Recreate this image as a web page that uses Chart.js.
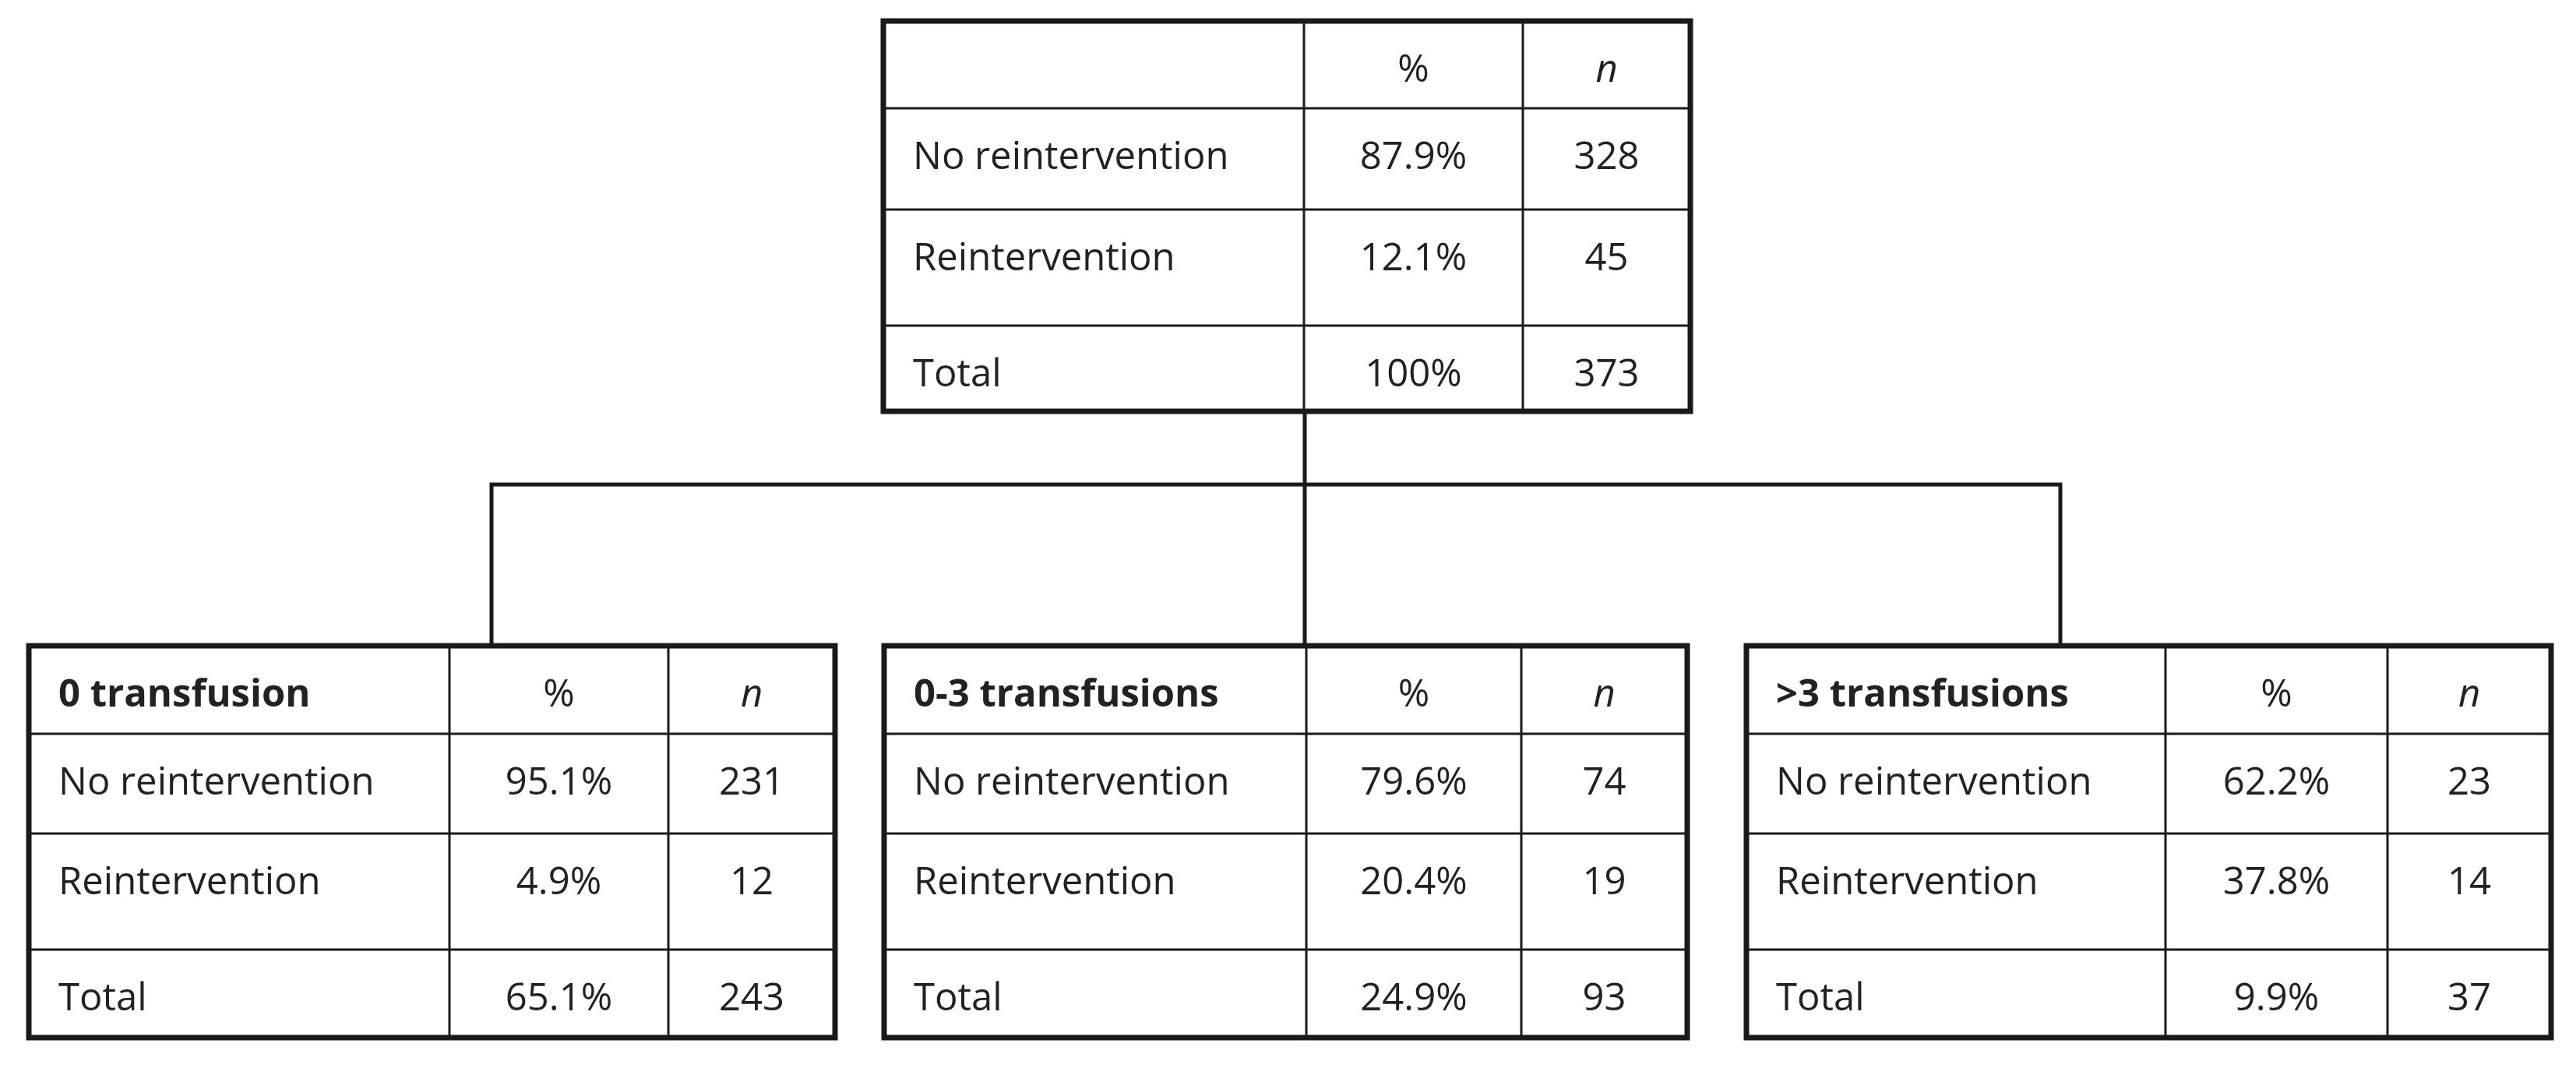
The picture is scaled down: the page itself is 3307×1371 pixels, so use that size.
<!DOCTYPE html>
<html><head><meta charset="utf-8">
<script src="https://cdn.jsdelivr.net/npm/chart.js@4"></script>
<style>html,body{margin:0;padding:0;background:#fff}#wrap{width:3307px;height:1371px}</style>
</head><body><div id="wrap"><canvas id="c"></canvas></div>
<script>
// Data
const tableTitles = ["", "0 transfusion", "0-3 transfusions", ">3 transfusions"];
const rowLabels = ["No reintervention", "Reintervention", "Total"];
const pctTop = ["87.9%", "12.1%", "100%"];
const nTop = [328, 45, 373];
const pct0 = ["95.1%", "4.9%", "65.1%"];
const n0 = [231, 12, 243];
const pct03 = ["79.6%", "20.4%", "24.9%"];
const n03 = [74, 19, 93];
const pct3 = ["62.2%", "37.8%", "9.9%"];
const n3 = [23, 14, 37];

// Layout (in scale units)
const layouts = [
  {cols:[1134,1674,1955,2170], rows:[27,139,269,418,528], pct:pctTop, n:nTop},
  {cols:[37,577,858,1072], rows:[829,942,1070,1219,1332], pct:pct0, n:n0},
  {cols:[1135,1677,1953,2166], rows:[829,942,1070,1219,1332], pct:pct03, n:n03},
  {cols:[2242,2780,3065,3275], rows:[829,942,1070,1219,1332], pct:pct3, n:n3}
];

const treePlugin = {
  id:'tree',
  afterDraw(chart){
    const ctx = chart.ctx, X = v=>chart.scales.x.getPixelForValue(v), Y = v=>chart.scales.y.getPixelForValue(v);
    ctx.save();
    ctx.strokeStyle = '#1a1a1a'; ctx.lineCap='square';
    ctx.lineWidth = 5;
    ctx.beginPath();
    ctx.moveTo(X(1675),Y(528)); ctx.lineTo(X(1675),Y(829));
    ctx.moveTo(X(631),Y(622)); ctx.lineTo(X(2645),Y(622));
    ctx.moveTo(X(631),Y(622)); ctx.lineTo(X(631),Y(829));
    ctx.moveTo(X(2645),Y(622)); ctx.lineTo(X(2645),Y(829));
    ctx.stroke();
    const font = "Open Sans, sans-serif";
    layouts.forEach((L,ti)=>{
      const c=L.cols, r=L.rows;
      ctx.fillStyle='#fff';
      ctx.fillRect(X(c[0]),Y(r[0]),X(c[3])-X(c[0]),Y(r[4])-Y(r[0]));
      ctx.lineWidth=3;
      ctx.beginPath();
      for(let i=1;i<3;i++){ctx.moveTo(X(c[i]),Y(r[0]));ctx.lineTo(X(c[i]),Y(r[4]));}
      for(let j=1;j<4;j++){ctx.moveTo(X(c[0]),Y(r[j]));ctx.lineTo(X(c[3]),Y(r[j]));}
      ctx.stroke();
      ctx.lineWidth=7;
      ctx.strokeRect(X(c[0]),Y(r[0]),X(c[3])-X(c[0]),Y(r[4])-Y(r[0]));
      ctx.fillStyle='#222';
      ctx.textBaseline='alphabetic';
      const fs=49;
      ctx.textAlign='left';
      ctx.font = `bold ${fs}px ${font}`;
      ctx.fillText(tableTitles[ti], X(c[0]+38), Y(r[0]+78));
      ctx.textAlign='center';
      ctx.font = `${fs}px ${font}`;
      ctx.fillText('%', X((c[1]+c[2])/2), Y(r[0]+78));
      ctx.font = `italic ${fs}px ${font}`;
      ctx.fillText('n', X((c[2]+c[3])/2), Y(r[0]+78));
      ctx.font = `${fs}px ${font}`;
      for(let k=0;k<3;k++){
        const by=Y(r[k+1]+78);
        ctx.textAlign='left'; ctx.fillText(rowLabels[k], X(c[0]+38), by);
        ctx.textAlign='center';
        ctx.fillText(L.pct[k], X((c[1]+c[2])/2), by);
        ctx.fillText(String(L.n[k]), X((c[2]+c[3])/2), by);
      }
    });
    ctx.restore();
  }
};

new Chart(document.getElementById('c'), {
  type:'scatter',
  data:{datasets:[{data:[]}]},
  options:{
    responsive:true, maintainAspectRatio:false, animation:false,
    layout:{padding:0},
    plugins:{legend:{display:false}, tooltip:{enabled:false}},
    scales:{
      x:{type:'linear',min:0,max:3307,display:false},
      y:{type:'linear',min:0,max:1371,reverse:true,display:false}
    }
  },
  plugins:[treePlugin]
});
</script></body></html>
